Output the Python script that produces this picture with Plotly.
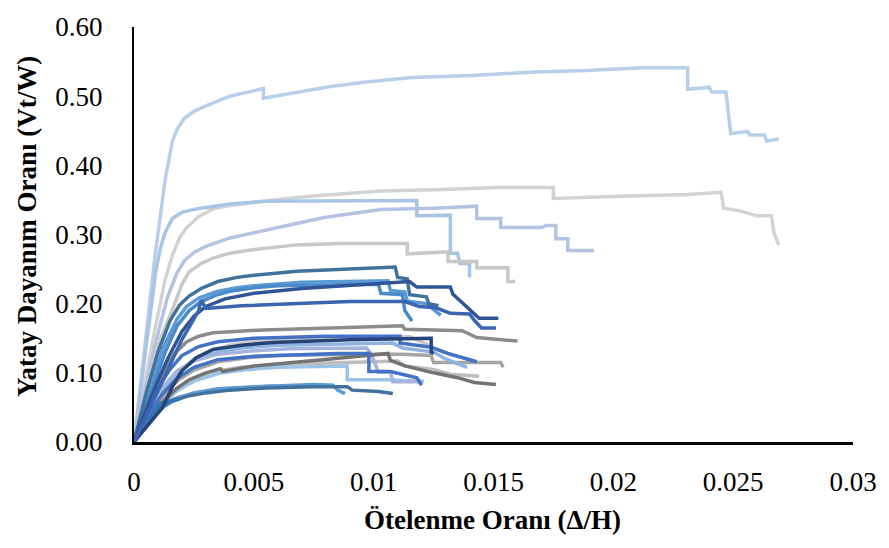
import plotly.graph_objects as go

# Pushover capacity curves: drift ratio (Δ/H) vs. lateral strength ratio (Vt/W)

# --- upper curves -------------------------------------------------------
c01_x = [0, 0.00045, 0.00088, 0.0013, 0.0016, 0.0018, 0.0021, 0.0025, 0.0030, 0.0040, 0.0054, 0.0054, 0.0068, 0.0082,
         0.0096, 0.0116, 0.0141, 0.0167, 0.0189, 0.0212, 0.0231, 0.0231, 0.0240, 0.0241, 0.0247, 0.0248, 0.0249,
         0.0256, 0.0257, 0.0263, 0.0264, 0.0269]
c01_y = [0, 0.14, 0.27, 0.379, 0.435, 0.452, 0.468, 0.478, 0.486, 0.500, 0.511, 0.497, 0.506, 0.514,
         0.520, 0.527, 0.530, 0.535, 0.537, 0.541, 0.541, 0.510, 0.513, 0.506, 0.506, 0.475, 0.446,
         0.449, 0.444, 0.444, 0.435, 0.438]

c02_x = [0, 0.0008, 0.0013, 0.0016, 0.0019, 0.0022, 0.0027, 0.0033, 0.0040, 0.0047, 0.0061, 0.0076, 0.0103, 0.0129,
         0.0151, 0.0175, 0.0175, 0.0199, 0.0231, 0.0245, 0.0246, 0.0253, 0.0260, 0.0266, 0.0267, 0.0269]
c02_y = [0, 0.15, 0.235, 0.27, 0.295, 0.31, 0.326, 0.337, 0.342, 0.345, 0.351, 0.356, 0.363, 0.365,
         0.368, 0.368, 0.352, 0.355, 0.358, 0.361, 0.338, 0.334, 0.327, 0.327, 0.303, 0.285]

c03_x = [0, 0.0005, 0.0009, 0.0011, 0.0013, 0.0016, 0.0020, 0.0026, 0.0033, 0.0040, 0.0054, 0.0118, 0.0118, 0.0132,
         0.0132, 0.0135, 0.0136, 0.0140, 0.0140]
c03_y = [0, 0.14, 0.245, 0.28, 0.303, 0.323, 0.332, 0.337, 0.341, 0.344, 0.348, 0.349, 0.327, 0.328,
         0.273, 0.273, 0.258, 0.258, 0.238]

c04_x = [0, 0.0008, 0.0014, 0.0018, 0.0021, 0.0025, 0.0030, 0.0040, 0.0060, 0.0080, 0.0103, 0.0125, 0.0143, 0.0143,
         0.0153, 0.0153, 0.0170, 0.0172, 0.0176, 0.0176, 0.0181, 0.0181, 0.0192]
c04_y = [0, 0.13, 0.21, 0.245, 0.262, 0.274, 0.283, 0.295, 0.31, 0.325, 0.336, 0.338, 0.341, 0.323,
         0.323, 0.31, 0.31, 0.313, 0.313, 0.294, 0.294, 0.277, 0.277]

c05_x = [0, 0.0010, 0.0017, 0.0020, 0.0023, 0.0028, 0.0033, 0.0040, 0.0047, 0.0068, 0.0086, 0.0114, 0.0114, 0.0131,
         0.0131, 0.0143, 0.0143, 0.0156, 0.0156, 0.0159]
c05_y = [0, 0.14, 0.20, 0.228, 0.246, 0.258, 0.266, 0.273, 0.277, 0.285, 0.287, 0.287, 0.272, 0.275,
         0.261, 0.261, 0.252, 0.252, 0.232, 0.232]

# --- middle curves ------------------------------------------------------
m01_x = [0, 0.0005, 0.0010, 0.0015, 0.0019, 0.0023, 0.0028, 0.0035, 0.0043, 0.0050, 0.0068, 0.0085, 0.0109, 0.0110,
         0.0114, 0.0115, 0.0122, 0.0123, 0.0127]
m01_y = [0, 0.07, 0.13, 0.175, 0.198, 0.211, 0.222, 0.232, 0.238, 0.241, 0.247, 0.250, 0.253, 0.238,
         0.236, 0.213, 0.210, 0.200, 0.197]

m02_x = [0, 0.0006, 0.0012, 0.0018, 0.0022, 0.0027, 0.0035, 0.0043, 0.0050, 0.0070, 0.0106, 0.0107, 0.0113, 0.0114,
         0.0122, 0.0128]
m02_y = [0, 0.07, 0.135, 0.178, 0.196, 0.208, 0.218, 0.223, 0.226, 0.231, 0.233, 0.219, 0.217, 0.204,
         0.200, 0.183]

m03_x = [0, 0.0007, 0.0013, 0.0018, 0.0023, 0.0028, 0.0034, 0.0040, 0.0050, 0.0060, 0.0102, 0.0103, 0.0112, 0.0113,
         0.0116]
m03_y = [0, 0.07, 0.13, 0.168, 0.19, 0.203, 0.212, 0.218, 0.223, 0.226, 0.228, 0.215, 0.213, 0.190,
         0.175]

m04_x = [0, 0.0007, 0.0014, 0.0020, 0.0025, 0.0030, 0.0038, 0.0050, 0.0070, 0.0095, 0.0115, 0.0118, 0.0132, 0.0133,
         0.0139, 0.0144, 0.0152]
m04_y = [0, 0.065, 0.12, 0.16, 0.182, 0.196, 0.207, 0.215, 0.222, 0.228, 0.232, 0.224, 0.224, 0.214,
         0.195, 0.179, 0.179]

m05_x = [0, 0.0008, 0.0015, 0.0020, 0.0024, 0.0027, 0.0028, 0.0030, 0.0045, 0.0065, 0.0090, 0.0113, 0.0119, 0.0126,
         0.0132, 0.0140, 0.0142, 0.0145, 0.0151]
m05_y = [0, 0.06, 0.11, 0.148, 0.172, 0.19, 0.205, 0.193, 0.197, 0.200, 0.203, 0.203, 0.196, 0.194,
         0.186, 0.185, 0.176, 0.165, 0.165]

m06_x = [0, 0.0006, 0.0012, 0.0017, 0.0022, 0.0027, 0.0033, 0.0042, 0.0054, 0.0082, 0.0112, 0.0113, 0.0137, 0.0143,
         0.0155, 0.0160]
m06_y = [0, 0.055, 0.10, 0.128, 0.145, 0.153, 0.158, 0.160, 0.162, 0.165, 0.168, 0.163, 0.161, 0.151,
         0.148, 0.146]

# --- lower curves -------------------------------------------------------
l01_x = [0, 0.0006, 0.0012, 0.0018, 0.0025, 0.0032, 0.0040, 0.0050, 0.0060, 0.0075, 0.0095, 0.0115, 0.0123]
l01_y = [0, 0.04, 0.075, 0.10, 0.12, 0.132, 0.14, 0.145, 0.148, 0.150, 0.151, 0.152, 0.140]

l02_x = [0, 0.0005, 0.0010, 0.0015, 0.0020, 0.0027, 0.0035, 0.0050, 0.0080, 0.0111, 0.0111, 0.0124, 0.0131, 0.0143]
l02_y = [0, 0.04, 0.078, 0.105, 0.125, 0.138, 0.145, 0.150, 0.153, 0.153, 0.143, 0.137, 0.128, 0.116]

l03_x = [0, 0.0006, 0.0012, 0.0016, 0.0020, 0.0026, 0.0033, 0.0045, 0.0058, 0.0090, 0.0124, 0.0124, 0.0125]
l03_y = [0, 0.025, 0.05, 0.08, 0.103, 0.122, 0.134, 0.140, 0.144, 0.148, 0.150, 0.130, 0.128]

l04_x = [0, 0.0006, 0.0012, 0.0018, 0.0025, 0.0035, 0.0045, 0.0060, 0.0108, 0.0112, 0.0125, 0.0130, 0.0139]
l04_y = [0, 0.04, 0.075, 0.10, 0.118, 0.13, 0.136, 0.140, 0.143, 0.136, 0.130, 0.120, 0.108]

l05_x = [0, 0.0006, 0.0012, 0.0018, 0.0025, 0.0035, 0.0050, 0.0065, 0.0097, 0.0099, 0.0102, 0.0107, 0.0108, 0.0119]
l05_y = [0, 0.045, 0.08, 0.103, 0.117, 0.127, 0.132, 0.135, 0.136, 0.127, 0.101, 0.101, 0.087, 0.087]

l06_x = [0, 0.0006, 0.0012, 0.0018, 0.0025, 0.0035, 0.0050, 0.0085, 0.0098, 0.0098, 0.0107, 0.0112, 0.0118, 0.0120]
l06_y = [0, 0.04, 0.07, 0.092, 0.108, 0.119, 0.124, 0.128, 0.128, 0.102, 0.102, 0.098, 0.093, 0.082]

l07_x = [0, 0.0006, 0.0012, 0.0018, 0.0025, 0.0035, 0.0048, 0.0060, 0.0095, 0.0112, 0.0124, 0.0125, 0.0153, 0.0154]
l07_y = [0, 0.035, 0.065, 0.088, 0.104, 0.116, 0.122, 0.125, 0.127, 0.127, 0.125, 0.115, 0.115, 0.108]

l08_x = [0, 0.0006, 0.0012, 0.0018, 0.0023, 0.0030, 0.0036, 0.0037, 0.0050, 0.0082, 0.0095, 0.0106, 0.0107, 0.0113,
         0.0125, 0.0135, 0.0142, 0.0151]
l08_y = [0, 0.03, 0.058, 0.078, 0.09, 0.10, 0.106, 0.102, 0.11, 0.12, 0.125, 0.128, 0.118, 0.11,
         0.10, 0.093, 0.086, 0.083]

l09_x = [0, 0.0006, 0.0012, 0.0018, 0.0025, 0.0033, 0.0045, 0.0070, 0.0110, 0.0113, 0.0125, 0.0132, 0.0144]
l09_y = [0, 0.03, 0.057, 0.077, 0.092, 0.102, 0.108, 0.113, 0.117, 0.110, 0.105, 0.098, 0.095]

l10_x = [0, 0.0006, 0.0012, 0.0018, 0.0025, 0.0035, 0.0048, 0.0060, 0.0089, 0.0089, 0.0105, 0.0121]
l10_y = [0, 0.03, 0.055, 0.074, 0.088, 0.099, 0.105, 0.108, 0.110, 0.090, 0.090, 0.088]

l11_x = [0, 0.0006, 0.0012, 0.0018, 0.0025, 0.0035, 0.0050, 0.0075, 0.0083, 0.0085, 0.0088]
l11_y = [0, 0.03, 0.05, 0.063, 0.071, 0.077, 0.080, 0.083, 0.082, 0.075, 0.070]

l12_x = [0, 0.0005, 0.0010, 0.0015, 0.0022, 0.0030, 0.0040, 0.0055, 0.0075, 0.0089, 0.0091, 0.0102, 0.0108]
l12_y = [0, 0.03, 0.048, 0.058, 0.066, 0.071, 0.075, 0.078, 0.080, 0.080, 0.075, 0.073, 0.070]

l13_x = [0, 0.0006, 0.0012, 0.0018, 0.0025, 0.0035, 0.0045, 0.0058, 0.0063]
l13_y = [0, 0.032, 0.055, 0.064, 0.070, 0.075, 0.078, 0.081, 0.080]

l14_x = [0, 0.0006, 0.0011, 0.0016, 0.0019]
l14_y = [0, 0.033, 0.056, 0.060, 0.062]

# (x, y, colour) in drawing order
series = [
    (c01_x, c01_y, "#b8cfea"),
    (c02_x, c02_y, "#d3d3d3"),
    (c03_x, c03_y, "#a9c5e6"),
    (c04_x, c04_y, "#b4c2e3"),
    (c05_x, c05_y, "#c8c8c8"),
    (l01_x, l01_y, "#c9c9c9"),
    (l09_x, l09_y, "#bdbdbd"),
    (l07_x, l07_y, "#a5a5a5"),
    (l10_x, l10_y, "#9dc3e6"),
    (l04_x, l04_y, "#8fb4e3"),
    (l05_x, l05_y, "#a5b4dc"),
    (l13_x, l13_y, "#8c8c8c"),
    (m06_x, m06_y, "#8c8c8c"),
    (l08_x, l08_y, "#737373"),
    (l11_x, l11_y, "#5b9bd5"),
    (l12_x, l12_y, "#41719c"),
    (l14_x, l14_y, "#2e75b6"),
    (l06_x, l06_y, "#4472c4"),
    (l02_x, l02_y, "#4472c4"),
    (l03_x, l03_y, "#264478"),
    (m02_x, m02_y, "#5b9bd5"),
    (m03_x, m03_y, "#4a8ac8"),
    (m01_x, m01_y, "#41719c"),
    (m04_x, m04_y, "#2f5597"),
    (m05_x, m05_y, "#3b65b0"),
]

fig = go.Figure()
for xs, ys, col in series:
    fig.add_trace(go.Scatter(x=xs, y=ys, mode="lines",
                             line=dict(color=col, width=3.5),
                             showlegend=False, hoverinfo="skip"))

x_ticks = [0, 0.005, 0.01, 0.015, 0.02, 0.025, 0.03]
x_tick_text = ["0", "0.005", "0.01", "0.015", "0.02", "0.025", "0.03"]
y_ticks = [0, 0.1, 0.2, 0.3, 0.4, 0.5, 0.6]
y_tick_text = ["0.00", "0.10", "0.20", "0.30", "0.40", "0.50", "0.60"]

tick_font = dict(family="Liberation Serif, Times New Roman, serif", size=27, color="black")
title_font = dict(family="Liberation Serif, Times New Roman, serif", size=27, color="black")

fig.update_layout(
    width=889, height=548,
    margin=dict(l=134, r=36, t=16, b=106),
    paper_bgcolor="white", plot_bgcolor="white",
    xaxis=dict(range=[0, 0.03], tickvals=x_ticks, ticktext=x_tick_text,
               showgrid=False, zeroline=False, showline=True, linecolor="black", linewidth=2.5,
               ticks="", tickfont=tick_font, ticklabelstandoff=14),
    yaxis=dict(range=[0, 0.6], tickvals=y_ticks, ticktext=y_tick_text,
               showgrid=False, zeroline=False, showline=True, linecolor="black", linewidth=2,
               ticks="", tickfont=tick_font, ticklabelstandoff=24),
    annotations=[
        dict(text="<b>Yatay Dayanım Oranı (Vt/W)</b>", xref="paper", yref="paper",
             x=-0.149, y=0.52, xanchor="center", yanchor="middle", textangle=-90,
             showarrow=False, font=title_font),
        dict(text="<b>Ötelenme Oranı (Δ/H)</b>", xref="paper", yref="paper",
             x=0.4993, y=-0.188, xanchor="center", yanchor="middle",
             showarrow=False, font=title_font),
    ],
)

fig.write_html("out.html")
